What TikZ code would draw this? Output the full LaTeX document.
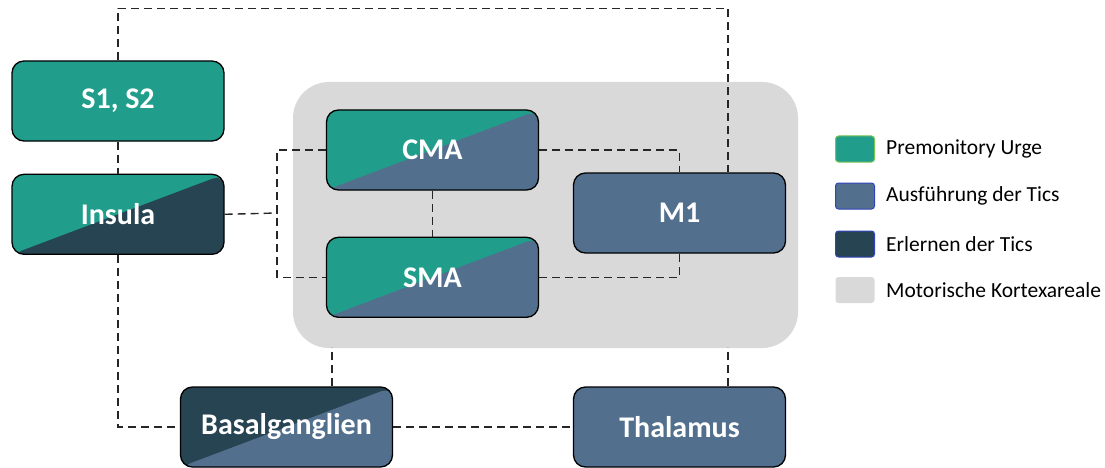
\documentclass[tikz,border=0pt]{standalone}
\usepackage{fontspec}
\setmainfont{Carlito}
\usetikzlibrary{positioning, calc}
\definecolor{urge}{HTML}{219E8B}
\definecolor{ausf}{HTML}{52708E}
\definecolor{lern}{HTML}{264452}
\definecolor{kortex}{HTML}{D9D9D9}

\begin{document}
\begin{tikzpicture}[x=1pt, y=-1pt,
areanode/.style={rectangle, rounded corners=12pt, draw=black, line width=1.3pt, minimum width=212pt, minimum height=80pt, text=white, font=\fontsize{30}{34}\selectfont\bfseries},
splitnode/.style 2 args={areanode, fill=#1, path picture={\fill[#2] (path picture bounding box.south west) -- (path picture bounding box.north east) -- (path picture bounding box.south east) -- cycle;}},
keynode/.style={rectangle, rounded corners=3pt, minimum width=39pt, minimum height=26pt, line width=1pt},
keytext/.style={right=11pt of #1, font=\fontsize{21.5}{25}\selectfont, inner sep=0pt},
link/.style={draw=black!85, line width=1.4pt, dash pattern=on 8pt off 5pt},
]
\useasboundingbox (0,0) rectangle (1105,468);
%Kortex
\node[rectangle, rounded corners=36pt, fill=kortex, minimum width=505pt, minimum height=266pt] (Kortex) at (545.5,215) {};
%Nodes
\node[areanode, fill=urge] (S1) at (118,101) {S1, S2};
\node[splitnode={urge}{lern}] (Insula) [below=32pt of S1] {Insula};
\node[splitnode={urge}{ausf}] (CMA) at (432.5,150) {CMA};
\node[splitnode={urge}{ausf}] (SMA) [below=46pt of CMA] {SMA};
\node[areanode, fill=ausf] (M1) at (679.5,213) {M1};
\node[splitnode={lern}{ausf}] (Basal) at (286.5,427) {Basalganglien};
\node[areanode, fill=ausf] (Thal) at (679.5,427) {Thalamus};
%Legend
\node[keynode, fill=urge, draw=urge!60!yellow] (K1) at (855,149) {};
\node[keynode, fill=ausf, draw=ausf!60!blue] (K2) at (855,196) {};
\node[keynode, fill=lern, draw=ausf!60!blue] (K3) at (855,244) {};
\node[keynode, fill=kortex] (K4) at (855,290) {};
\node[keytext=K1] (T1) {Premonitory Urge};
\node[keytext=K2] (T2) {Ausführung der Tics};
\node[keytext=K3] (T3) {Erlernen der Tics};
\node[keytext=K4] (T4) {Motorische Kortexareale};
%Links
\coordinate (J) at (277,213);
\draw[link] (S1.north) -- ++(0,-52) -| ([xshift=48.5pt]M1.north);
\draw[link] (S1) -- (Insula);
\draw[link] (Insula.east) -- (J);
\draw[link] (CMA.west) -| (J) |- (SMA.west);
\draw[link] (CMA) -- (SMA);
\draw[link] (CMA.east) -| (M1.north);
\draw[link] (SMA.east) -| (M1.south);
\draw[link] (Insula.south) |- (Basal.west);
\draw[link] ([xshift=45.5pt]Basal.north) -- ++(0,-39);
\draw[link] ([xshift=48.5pt]Thal.north) -- ++(0,-39);
\draw[link] (Basal) -- (Thal);
\end{tikzpicture}
\end{document}
